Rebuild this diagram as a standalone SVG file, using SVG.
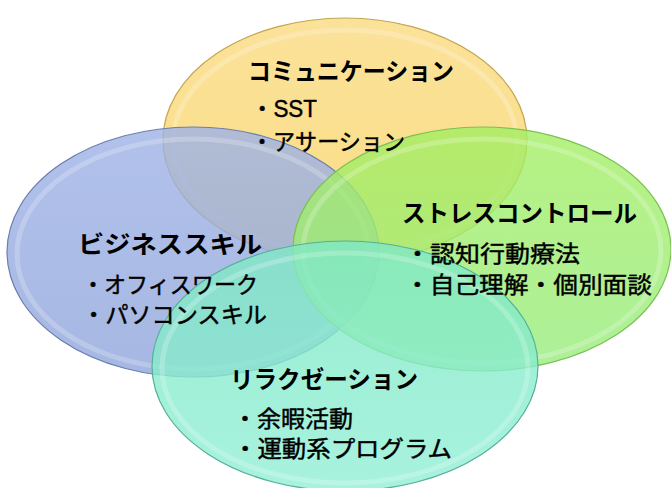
<svg xmlns="http://www.w3.org/2000/svg" width="671" height="488" viewBox="0 0 671 488">
<style>
.t{font-family:"Liberation Sans","Noto Sans CJK JP",sans-serif;font-size:24px;font-weight:bold;fill:#000}
.i{font-family:"Liberation Sans","Noto Sans CJK JP",sans-serif;font-size:23px;fill:#000;stroke:#000;stroke-width:0.45}
.rim{fill:none;stroke:#ffffff;stroke-opacity:0.22;stroke-width:5}
.e{stroke-width:1.2;fill-opacity:0.8}
</style>
<defs>
<linearGradient id="gy" x1="0" y1="0" x2="0" y2="1"><stop offset="0" stop-color="#FADB80"/><stop offset="1" stop-color="#F8D466"/></linearGradient>
<linearGradient id="gb" x1="0" y1="0" x2="0" y2="1"><stop offset="0" stop-color="#9EB2E6"/><stop offset="1" stop-color="#8FA5DB"/></linearGradient>
<linearGradient id="gg" x1="0" y1="0" x2="0" y2="1"><stop offset="0" stop-color="#A4EE62"/><stop offset="1" stop-color="#98EC80"/></linearGradient>
<linearGradient id="gc" x1="0" y1="0" x2="0" y2="1"><stop offset="0" stop-color="#7FE8C4"/><stop offset="1" stop-color="#92EFD6"/></linearGradient>
</defs>
<rect width="671" height="488" fill="#ffffff"/>
<g id="communication">
<ellipse class="e" cx="345" cy="140" rx="182" ry="122" fill="url(#gy)" stroke="#C4A650"/>
<ellipse class="rim" cx="345" cy="142" rx="172" ry="112"/>
</g>
<g id="business">
<ellipse class="e" cx="193" cy="252" rx="186" ry="125" fill="url(#gb)" stroke="#6A7EB0"/>
<ellipse class="rim" cx="193" cy="254" rx="176" ry="115"/>
</g>
<g id="stress">
<ellipse class="e" cx="482" cy="249" rx="189" ry="122" fill="url(#gg)" stroke="#7CC052"/>
<ellipse class="rim" cx="482" cy="251" rx="179" ry="112"/>
</g>
<g id="relaxation">
<ellipse class="e" cx="345" cy="366" rx="193" ry="125" fill="url(#gc)" stroke="#55B096"/>
<ellipse class="rim" cx="345" cy="368" rx="183" ry="115"/>
</g>
<g id="communication-label">
<text class="t" x="248" y="80" textLength="206" lengthAdjust="spacingAndGlyphs">コミュニケーション</text>
<text class="i" x="251" y="117" textLength="66" lengthAdjust="spacingAndGlyphs">・SST</text>
<text class="i" x="251" y="150" textLength="154" lengthAdjust="spacingAndGlyphs">・アサーション</text>
</g>
<g id="business-label">
<text class="t" x="78" y="253" textLength="184" lengthAdjust="spacingAndGlyphs">ビジネススキル</text>
<text class="i" x="82" y="293" textLength="176" lengthAdjust="spacingAndGlyphs">・オフィスワーク</text>
<text class="i" x="82" y="323" textLength="185" lengthAdjust="spacingAndGlyphs">・パソコンスキル</text>
</g>
<g id="stress-label">
<text class="t" x="402" y="222" textLength="235" lengthAdjust="spacingAndGlyphs">ストレスコントロール</text>
<text class="i" x="405" y="262" textLength="175" lengthAdjust="spacingAndGlyphs">・認知行動療法</text>
<text class="i" x="405" y="293" textLength="247" lengthAdjust="spacingAndGlyphs">・自己理解・個別面談</text>
</g>
<g id="relaxation-label">
<text class="t" x="230" y="388" textLength="188" lengthAdjust="spacingAndGlyphs">リラクゼーション</text>
<text class="i" x="233" y="427" textLength="120" lengthAdjust="spacingAndGlyphs">・余暇活動</text>
<text class="i" x="233" y="457" textLength="219" lengthAdjust="spacingAndGlyphs">・運動系プログラム</text>
</g>
</svg>
